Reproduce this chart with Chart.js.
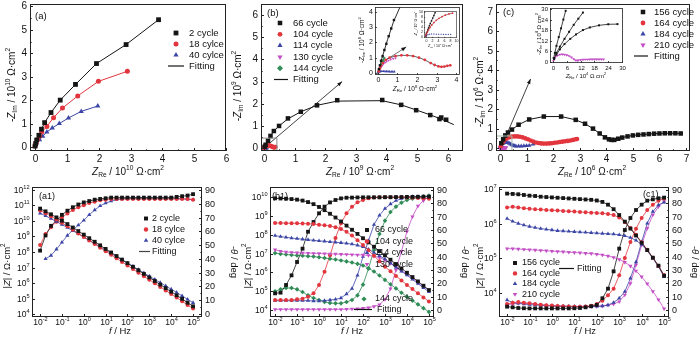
<!DOCTYPE html>
<html>
<head>
<meta charset="utf-8">
<script src="https://cdn.jsdelivr.net/npm/chart.js@4.4.0/dist/chart.umd.min.js"></script>
<style>
html, body { margin: 0; padding: 0; background: #fff; }
#wrap { position: relative; width: 700px; height: 340px; overflow: hidden; }
#wrap canvas { position: absolute; left: 0; top: 0; }
</style>
</head>
<body>
<div id="wrap"></div>
<script>
const W = 700, H = 340;
const FONT = '"Liberation Sans", Arial, sans-serif';
const BLACK = '#151515', RED = '#e2353d', BLUE = '#3b45a6', PURPLE = '#c44ec6', GREEN = '#2f8c56';

// ---- Nyquist (a), units 10^10 ohm cm2
const aNames = ['2 cycle', '18 cylce', '40 cylce'];
const a2x = [0.0, 0.02, 0.05, 0.12, 0.2, 0.3, 0.5, 0.79, 1.27, 1.93, 2.86, 3.88];
const a2y = [0.04, 0.15, 0.3, 0.5, 0.76, 1.04, 1.47, 2.0, 2.67, 3.56, 4.37, 5.43];
const a18x = [0.0, 0.03, 0.07, 0.14, 0.21, 0.37, 0.58, 0.86, 1.34, 1.99, 2.9];
const a18y = [0.04, 0.17, 0.31, 0.46, 0.64, 0.88, 1.25, 1.66, 2.18, 2.8, 3.23];
const a40x = [0.01, 0.05, 0.14, 0.24, 0.37, 0.54, 0.76, 1.05, 1.45, 1.97];
const a40y = [0.07, 0.18, 0.31, 0.46, 0.64, 0.81, 1.0, 1.24, 1.52, 1.75];

// ---- Nyquist (b): 66 cycle in 10^9, the others in 10^8 (130/144 in 10^7)
const bNames = ['66 cycle', '104 cycle', '114 cycle', '130 cycle', '144 cycle'];
const b66x = [0.02, 0.05, 0.13, 0.21, 0.32, 0.49, 0.78, 1.2, 1.73, 2.39, 3.86, 4.48, 4.97, 5.43, 5.73, 5.79, 5.95];
const b66y = [0.06, 0.15, 0.33, 0.55, 0.77, 1.0, 1.34, 1.64, 1.93, 2.16, 2.17, 1.95, 1.71, 1.49, 1.31, 1.38, 1.28];
const b66fitX = [0, 0.05, 0.13, 0.21, 0.32, 0.49, 0.78, 1.2, 1.73, 2.39, 3.1, 3.86, 4.48, 4.97, 5.43, 5.8, 6.2];
const b66fitY = [0, 0.15, 0.33, 0.55, 0.77, 1.0, 1.32, 1.64, 1.93, 2.12, 2.13, 2.14, 1.95, 1.72, 1.5, 1.3, 1.06];
const b66inX = [0.05, 0.1, 0.16, 0.24, 0.33, 0.43, 0.55, 0.68, 0.82];
const b66inY = [0.25, 0.5, 0.8, 1.1, 1.5, 1.9, 2.4, 2.9, 3.45];
const b66inFitX = [0, 0.2, 0.5, 0.8, 1.2];
const b66inFitY = [0, 0.95, 2.2, 3.35, 4.5];
const b104x = [0.05, 0.1, 0.15, 0.25, 0.4, 0.6, 0.9, 1.2, 1.5, 1.8, 2.1, 2.4, 2.7, 2.9, 3.1, 3.25, 3.4, 3.55, 3.7];
const b104y = [0.1, 0.3, 0.45, 0.65, 0.85, 1.0, 1.1, 1.15, 1.15, 1.1, 1.0, 0.85, 0.65, 0.52, 0.43, 0.4, 0.42, 0.47, 0.5];
const b114x = [0.03, 0.08, 0.13, 0.2, 0.28, 0.36, 0.44, 0.52, 0.6, 0.68, 0.76, 0.84];
const b114y = [0.04, 0.08, 0.1, 0.11, 0.11, 0.1, 0.1, 0.1, 0.09, 0.09, 0.09, 0.09];
const b130x = [0.1, 0.3, 0.6, 1.0, 1.5, 2.1, 2.8, 3.6, 4.5, 5.5, 6.6, 7.8, 9.0];
const b130y = [0.4, 1.1, 1.9, 2.8, 3.8, 4.8, 5.8, 6.7, 7.5, 8.2, 8.8, 9.3, 9.6];
const b144x = [0.05, 0.15, 0.3, 0.5, 0.75, 1.0, 1.3, 1.6, 2.0, 2.4, 2.8, 3.2];
const b144y = [0.2, 0.6, 1.2, 1.9, 2.8, 3.6, 4.5, 5.4, 6.5, 7.6, 8.7, 9.8];
const bArrowX = [0.08, 2.55], bArrowY = [0.1, 3.0];
const bInArrowX = [0.35, 1.45], bInArrowY = [0.8, 1.7];
const bBoxX = [-0.1, 0.42, 0.42, -0.1, -0.1], bBoxY = [-0.15, -0.15, 0.45, 0.45, -0.15];

// ---- Nyquist (c): units 10^6, inset in 10^4
const cNames = ['156 cycle', '164 cycle', '184 cycle', '210 cycle'];
const c156x = [0.05, 0.12, 0.2, 0.3, 0.45, 0.7, 1.1, 1.65, 2.3, 2.85, 3.2, 3.5, 3.75, 3.95, 4.1, 4.2, 4.3, 4.45, 4.6, 4.8, 5.0, 5.2, 5.4, 5.6, 5.8, 6.0, 6.2, 6.4, 6.6, 6.8];
const c156y = [0.25, 0.45, 0.65, 0.8, 0.95, 1.2, 1.47, 1.62, 1.62, 1.45, 1.25, 1.0, 0.75, 0.55, 0.45, 0.42, 0.42, 0.48, 0.54, 0.6, 0.65, 0.68, 0.7, 0.72, 0.74, 0.75, 0.76, 0.76, 0.76, 0.75];
const c164x = [0.03, 0.08, 0.15, 0.25, 0.35, 0.45, 0.55, 0.65, 0.75, 0.85, 0.95, 1.05, 1.15, 1.25, 1.35, 1.45, 1.55, 1.65, 1.75, 1.85, 1.95, 2.05, 2.15, 2.25, 2.35, 2.45, 2.55, 2.65, 2.75, 2.85, 2.9];
const c164y = [0.1, 0.25, 0.38, 0.48, 0.55, 0.59, 0.6, 0.6, 0.58, 0.55, 0.5, 0.45, 0.39, 0.34, 0.29, 0.26, 0.24, 0.23, 0.23, 0.24, 0.25, 0.27, 0.29, 0.31, 0.33, 0.35, 0.37, 0.39, 0.42, 0.45, 0.47];
const c184x = [0.02, 0.05, 0.1, 0.15, 0.2, 0.25, 0.3, 0.35, 0.4, 0.45, 0.5, 0.55, 0.6, 0.7, 0.8, 0.9, 1.0, 1.1, 1.25];
const c184y = [0.07, 0.15, 0.22, 0.26, 0.28, 0.28, 0.27, 0.24, 0.2, 0.16, 0.13, 0.11, 0.1, 0.1, 0.1, 0.11, 0.12, 0.13, 0.2];
const c210x = [0.2, 0.5, 1, 2, 3, 4, 5, 6, 7, 8, 9, 9.7, 10.5, 11, 12, 13, 14, 15, 16, 17, 18, 19, 20, 21, 22];
const c210y = [0.5, 1.5, 2.5, 3.5, 4, 4.1, 4, 3.7, 3.2, 2.4, 1.5, 0.8, 0.6, 0.8, 1.0, 1.1, 1.2, 1.2, 1.25, 1.3, 1.3, 1.3, 1.3, 1.3, 1.25];
const c156inX = [0.3, 0.8, 1.5, 2.5, 3.5, 4.5, 5.5];
const c156inY = [2, 5, 9, 14, 19, 24, 29];
const c164inX = [0.5, 1.5, 3, 5, 7, 9, 11, 13];
const c164inY = [2, 5, 8.5, 13, 17, 21, 24.5, 28];
const c184inX = [0.5, 1.5, 3, 5, 7.5, 10, 13, 16, 20, 24, 28];
const c184inY = [1.5, 4, 7, 10, 13, 15.5, 18, 19.5, 20.7, 21.3, 21.4];
const cArrowX = [0.05, 1.15], cArrowY = [0.05, 3.55];
const cBoxX = [-0.15, 0.45, 0.45, -0.15, -0.15], cBoxY = [-0.15, -0.15, 0.62, 0.62, -0.15];

// ---- Bode plots: sweep frequencies (Hz), |Z| (ohm cm2), phase -theta (deg)
const freq = [1e-2, 1.78e-2, 3.16e-2, 5.62e-2, 1e-1, 1.78e-1, 3.16e-1, 5.62e-1, 1, 1.78, 3.16, 5.62, 10, 17.8, 31.6, 56.2, 100, 178, 316, 562, 1e3, 1.78e3, 3.16e3, 5.62e3, 1e4, 1.78e4, 3.16e4, 5.62e4, 1e5];

const a1Z2 = [6.31e10, 4.17e10, 2.69e10, 1.70e10, 1.05e10, 6.31e9, 3.80e9, 2.24e9, 1.32e9, 7.76e8, 4.57e8, 2.69e8, 1.58e8, 9.33e7, 5.50e7, 3.24e7, 1.91e7, 1.12e7, 6.61e6, 3.89e6, 2.29e6, 1.35e6, 7.94e5, 4.68e5, 2.75e5, 1.62e5, 9.55e4, 5.37e4, 3.16e4];
const a1Z18 = [4.79e10, 3.16e10, 2.04e10, 1.26e10, 7.59e9, 4.57e9, 2.69e9, 1.58e9, 9.33e8, 5.50e8, 3.24e8, 1.91e8, 1.12e8, 6.61e7, 3.89e7, 2.29e7, 1.35e7, 7.94e6, 4.68e6, 2.75e6, 1.62e6, 9.55e5, 5.62e5, 3.31e5, 1.95e5, 1.15e5, 6.76e4, 3.80e4, 2.24e4];
const a1Z40 = [3.16e10, 2.14e10, 1.41e10, 9.12e9, 5.89e9, 3.72e9, 2.34e9, 1.48e9, 9.12e8, 5.62e8, 3.47e8, 2.14e8, 1.32e8, 8.13e7, 5.01e7, 3.09e7, 1.91e7, 1.17e7, 7.24e6, 4.47e6, 2.75e6, 1.70e6, 1.05e6, 6.46e5, 3.98e5, 2.45e5, 1.48e5, 8.91e4, 5.37e4];
const a1P2 = [46, 57, 64, 68, 72, 75, 77.5, 79.5, 81, 82, 83, 83.5, 84, 84.5, 84.5, 84.5, 84.5, 84.5, 84.5, 84.5, 84.5, 84.5, 84.5, 84.5, 84.5, 85, 85.5, 86, 87];
const a1P18 = [50, 58, 63, 67, 70, 73, 75.5, 77.5, 79, 80.5, 81.5, 82.5, 83, 83.5, 83.5, 83.5, 83.5, 83.5, 83.5, 83.5, 83.5, 83.5, 83.5, 83.5, 83.5, 83.5, 83.5, 83.5, 83];
const a1P40 = [null, 40, 42.5, 47, 52, 57, 61, 64.5, 68, 72, 75.5, 78.5, 80.5, 82, 83, 83.5, 84, 84, 84, 84, 84, 84, 84, 84, 84, 83.8, 83.6, 83.4, 83];

const b1Z66 = [8.51e9, 8.32e9, 8.13e9, 7.76e9, 7.24e9, 6.46e9, 5.37e9, 4.17e9, 2.95e9, 2.0e9, 1.29e9, 8.13e8, 5.01e8, 3.02e8, 1.82e8, 1.10e8, 6.46e7, 3.89e7, 2.29e7, 1.35e7, 7.94e6, 4.68e6, 2.75e6, 1.62e6, 9.55e5, 5.62e5, 3.31e5, 1.95e5, 1.15e5];
const b1Z104 = [4.17e8, 4.17e8, 4.07e8, 4.07e8, 3.98e8, 3.89e8, 3.80e8, 3.63e8, 3.31e8, 3.16e8, 2.88e8, 2.51e8, 2.0e8, 1.41e8, 8.91e7, 5.01e7, 2.82e7, 1.48e7, 7.59e6, 3.89e6, 2.0e6, 1.15e6, 6.46e5, 3.72e5, 2.14e5, 1.29e5, 7.76e4, 4.68e4, 2.82e4];
const b1Z114 = [8.91e7, 7.94e7, 7.24e7, 6.61e7, 6.17e7, 5.75e7, 5.37e7, 5.01e7, 4.68e7, 4.47e7, 4.17e7, 3.98e7, 3.72e7, 3.47e7, 3.16e7, 2.75e7, 2.24e7, 1.66e7, 1.12e7, 7.59e6, 5.01e6, 3.09e6, 1.86e6, 1.15e6, 7.08e5, 4.27e5, 2.51e5, 1.51e5, 9.33e4];
const b1Z130 = [1.58e7, 1.32e7, 1.20e7, 1.15e7, 1.10e7, 1.07e7, 1.05e7, 1.02e7, 1.0e7, 9.77e6, 9.55e6, 9.33e6, 9.12e6, 8.91e6, 8.71e6, 8.51e6, 8.32e6, 7.94e6, 7.24e6, 6.03e6, 4.47e6, 3.02e6, 2.0e6, 1.26e6, 7.94e5, 5.01e5, 3.02e5, 1.86e5, 1.15e5];
const b1Z144 = [1.05e7, 9.55e6, 8.91e6, 8.32e6, 7.94e6, 7.59e6, 7.24e6, 6.92e6, 6.31e6, 5.75e6, 5.25e6, 4.79e6, 4.27e6, 3.80e6, 3.31e6, 2.82e6, 2.29e6, 1.66e6, 1.10e6, 6.76e5, 3.98e5, 2.34e5, 1.41e5, 8.32e4, 5.01e4, 3.16e4, 2.0e4, 1.26e4, 7.94e3];
const b1P66 = [12.5, 13, 18.75, 26, 36, 46, 58.7, 66, 72.5, 77.5, 80.7, 82.5, 83.7, 84.2, 84.3, 84.4, 84.5, 84.5, 84.5, 84.5, 84.6, 84.6, 84.7, 84.7, 84.8, 84.8, 84.9, 85, 85];
const b1P104 = [7.5, 7.5, 7.5, 7.5, 8, 8.5, 10, 12.5, 18.75, 28.75, 41, 54, 65, 72.5, 77.5, 80.75, 82.5, 83.75, 84.3, 84.5, 84.5, 84.5, 84.5, 84.5, 84.3, 84.2, 84, 83.8, 83.5];
const b1P114 = [7, 7, 7, 7, 7, 7, 7, 6.8, 6.8, 7, 7.5, 8, 9, 12, 16, 26, 40, 52, 64, 71, 76, 79.5, 82, 83.5, 84.5, 85, 85, 85, 85];
const b1P130 = [0.5, 0.5, 0.5, 0.5, 0.5, 0.5, 0.5, 0.5, 0.5, 0.5, 0.5, 0.5, 0.5, 0.6, 0.8, 1, 1.3, 1.8, 2.6, 4, 8, 16, 30, 44, 59, 70, 78, 82, 85];
const b1P144 = [14, 15.5, 16.5, 16.5, 15.5, 13.5, 11, 9, 7.5, 6, 5.2, 5, 5, 6, 7.5, 11, 19, 31, 45, 57, 67, 73.5, 77.5, 80.5, 82.5, 83.5, 84.3, 85, 85.8];

const c1Z156 = [7.41e6, 7.24e6, 7.08e6, 6.76e6, 6.46e6, 6.31e6, 6.03e6, 5.89e6, 5.75e6, 5.62e6, 5.50e6, 5.37e6, 5.25e6, 5.13e6, 5.01e6, 4.90e6, 4.68e6, 4.27e6, 3.55e6, 2.63e6, 1.78e6, 1.15e6, 7.24e5, 4.57e5, 2.82e5, 1.74e5, 1.05e5, 6.17e4, 3.16e4];
const c1Z164 = [2.95e6, 3.09e6, 2.95e6, 2.82e6, 2.69e6, 2.63e6, 2.57e6, 2.51e6, 2.45e6, 2.40e6, 2.34e6, 2.29e6, 2.24e6, 2.19e6, 2.14e6, 2.09e6, 2.04e6, 2.0e6, 1.91e6, 1.78e6, 1.51e6, 1.12e6, 7.59e5, 4.79e5, 2.95e5, 1.78e5, 1.05e5, 6.03e4, 3.31e4];
const c1Z184 = [1.41e6, 1.17e6, 1.02e6, 9.12e5, 8.32e5, 7.76e5, 7.24e5, 6.92e5, 6.61e5, 6.31e5, 6.17e5, 6.03e5, 5.89e5, 5.75e5, 5.62e5, 5.50e5, 5.37e5, 5.25e5, 5.13e5, 5.01e5, 4.79e5, 4.47e5, 3.98e5, 3.31e5, 2.51e5, 1.66e5, 1.0e5, 5.75e4, 2.95e4];
const c1Z210 = [1.91e5, 1.91e5, 1.86e5, 1.82e5, 1.78e5, 1.74e5, 1.70e5, 1.66e5, 1.62e5, 1.58e5, 1.55e5, 1.51e5, 1.48e5, 1.45e5, 1.41e5, 1.38e5, 1.32e5, 1.26e5, 1.17e5, 1.07e5, 9.33e4, 7.76e4, 6.03e4, 4.37e4, 2.95e4, 1.86e4, 1.12e4, 6.46e3, 3.55e3];
const c1P156 = [2.5, 2, 1.5, 1.3, 1.2, 1.2, 1.2, 1.2, 1.2, 1.2, 1.2, 1.2, 1.3, 1.5, 2, 2.8, 3.8, 8.8, 16, 29, 46, 60, 69, 75, 79, 82, 83, 83.8, 84.3];
const c1P164 = [4.5, 5.5, 6, 5.5, 5, 4.5, 4, 3.6, 3.3, 3, 2.8, 2.6, 2.5, 2.5, 2.7, 3.2, 4.5, 7, 11, 16, 26, 39, 51, 61, 69, 75, 79, 82, 83.5];
const c1P184 = [7.5, 5.5, 5, 4.5, 4, 3.7, 3.5, 3.3, 3.1, 3, 2.9, 2.8, 2.7, 2.6, 2.6, 2.6, 2.7, 3, 3.8, 5.5, 8.8, 13.8, 23.8, 36, 51, 65, 73.8, 78.8, 80.8];
const c1P210 = [4, 4.5, 5, 5, 4.8, 4.3, 3.8, 3.4, 3, 2.8, 2.6, 2.5, 2.4, 2.4, 2.4, 2.5, 2.7, 3, 3.6, 4.5, 6.3, 11.3, 20, 33.8, 48.8, 61.3, 71.3, 77.5, 81.3];

// ---- axis ticks
const nyqTicksA = [0, 1, 2, 3, 4, 5, 6];
const nyqTicksB = [0, 1, 2, 3, 4, 5, 6];
const nyqTicksC = [0, 1, 2, 3, 4, 5, 6, 7];
const insetTicksB = [0, 1, 2, 3, 4];
const nestTicksB = [0, 2, 4, 6, 8, 10];
const insetTicksC = [0, 6, 12, 18, 24, 30];
const freqTicks = [1e-2, 1e-1, 1, 1e1, 1e2, 1e3, 1e4, 1e5];
const zTicksA1 = [1e4, 1e5, 1e6, 1e7, 1e8, 1e9, 1e10, 1e11, 1e12];
const zTicksB1 = [1e4, 1e5, 1e6, 1e7, 1e8, 1e9, 1e10];
const zTicksC1 = [1e4, 1e5, 1e6, 1e7];
const phaseTicks = [0, 10, 20, 30, 40, 50, 60, 70, 80, 90];

// ---------- text helpers
function parseRich(s) {
  const out = [];
  let mode = 'n', italic = false, last = 0, m;
  const re = /<(\/?)(sup|sub|i)>/g;
  while ((m = re.exec(s))) {
    if (m.index > last) out.push({ t: s.slice(last, m.index), mode, italic });
    if (m[2] === 'i') italic = !m[1]; else mode = m[1] ? 'n' : m[2];
    last = re.lastIndex;
  }
  if (last < s.length) out.push({ t: s.slice(last), mode, italic });
  return out;
}

function drawRich(ctx, s, x, y, size, align, rot) {
  const segs = parseRich(s);
  const font = g => (g.italic ? 'italic ' : '') + (g.mode === 'n' ? size : size * 0.66).toFixed(2) + 'px ' + FONT;
  let w = 0;
  segs.forEach(g => { ctx.font = font(g); g.w = ctx.measureText(g.t).width; w += g.w; });
  ctx.save();
  ctx.translate(x, y);
  if (rot) ctx.rotate(rot * Math.PI / 180);
  let cx = align === 'left' ? 0 : align === 'right' ? -w : -w / 2;
  ctx.textAlign = 'left';
  ctx.textBaseline = 'middle';
  ctx.fillStyle = '#111';
  segs.forEach(g => {
    ctx.font = font(g);
    const dy = g.mode === 'sup' ? -size * 0.36 : g.mode === 'sub' ? size * 0.3 : 0;
    ctx.fillText(g.t, cx, dy);
    cx += g.w;
  });
  ctx.restore();
}

function marker(ctx, style, x, y, r, color) {
  ctx.fillStyle = color;
  ctx.beginPath();
  if (style === 'rect') {
    const s = r * Math.SQRT1_2;
    ctx.rect(x - s, y - s, 2 * s, 2 * s);
  } else if (style === 'circle') {
    ctx.arc(x, y, r, 0, Math.PI * 2);
  } else if (style === 'rectRot') {
    ctx.moveTo(x, y - r); ctx.lineTo(x + r, y); ctx.lineTo(x, y + r); ctx.lineTo(x - r, y);
  } else {
    const d = style === 'down' ? -1 : 1;
    ctx.moveTo(x, y - d * r);
    ctx.lineTo(x + r * 0.866, y + d * r * 0.5);
    ctx.lineTo(x - r * 0.866, y + d * r * 0.5);
  }
  ctx.closePath();
  ctx.fill();
}

const logLabel = v => '10<sup>' + Math.round(Math.log10(v)) + '</sup>';
const midpoints = t => t.slice(1).map((v, i) => (v + t[i]) / 2);

// frame, inward ticks, tick labels, titles and legend drawn on top of each chart
const decoPlugin = {
  id: 'deco',
  beforeDraw(chart, args, o) {
    if (!o.fill) return;
    const a = chart.chartArea, ctx = chart.ctx;
    ctx.save();
    ctx.fillStyle = '#fff';
    ctx.fillRect(a.left, a.top, a.width, a.height);
    ctx.restore();
  },
  afterDatasetsDraw(chart) {
    const ctx = chart.ctx;
    chart.data.datasets.forEach((ds, i) => {
      if (!ds.arrow) return;
      const el = chart.getDatasetMeta(i).data, n = el.length;
      const p = el[n - 2], q = el[n - 1];
      const ang = Math.atan2(q.y - p.y, q.x - p.x), L = 5, w = 1.8;
      ctx.save();
      ctx.fillStyle = ds.borderColor;
      ctx.beginPath();
      ctx.moveTo(q.x, q.y);
      ctx.lineTo(q.x - L * Math.cos(ang) + w * Math.sin(ang), q.y - L * Math.sin(ang) - w * Math.cos(ang));
      ctx.lineTo(q.x - L * Math.cos(ang) - w * Math.sin(ang), q.y - L * Math.sin(ang) + w * Math.cos(ang));
      ctx.closePath();
      ctx.fill();
      ctx.restore();
    });
  },
  afterDraw(chart, args, o) {
    const ctx = chart.ctx, a = chart.chartArea;
    const size = o.size || 10;
    ctx.save();
    ctx.strokeStyle = '#222';
    ctx.lineWidth = o.lw || 1;
    ctx.strokeRect(Math.round(a.left) + 0.5, Math.round(a.top) + 0.5, Math.round(a.width) - 1, Math.round(a.height) - 1);
    (o.axes || []).forEach(ax => {
      const sc = chart.scales[ax.id];
      const len = ax.len || 3, pad = ax.pad == null ? 3 : ax.pad, fs = ax.size || size;
      const tick = (v, l) => {
        const p = Math.round(sc.getPixelForValue(v)) + 0.5;
        ctx.beginPath();
        if (ax.side === 'bottom') { ctx.moveTo(p, a.bottom); ctx.lineTo(p, a.bottom - l); }
        else if (ax.side === 'left') { ctx.moveTo(a.left, p); ctx.lineTo(a.left + l, p); }
        else { ctx.moveTo(a.right, p); ctx.lineTo(a.right - l, p); }
        ctx.stroke();
        return p;
      };
      ax.ticks.forEach((v, i) => {
        const p = tick(v, len);
        const lab = ax.labels ? ax.labels[i] : String(v);
        if (ax.side === 'bottom') drawRich(ctx, lab, p, a.bottom + pad + fs / 2, fs, 'center');
        else if (ax.side === 'left') drawRich(ctx, lab, a.left - pad, p, fs, 'right');
        else drawRich(ctx, lab, a.right + pad, p, fs, 'left');
      });
      (ax.minor || []).forEach(v => tick(v, len * 0.55));
    });
    (o.texts || []).forEach(t => drawRich(ctx, t.t, t.x, t.y, t.size || size, t.align || 'center', t.rot || 0));
    const L = o.legend;
    if (L) {
      L.items.forEach((it, i) => {
        const y = it.y != null ? it.y : L.y0 + i * L.dy;
        if (it.line) {
          ctx.strokeStyle = it.color;
          ctx.lineWidth = 1.2;
          ctx.beginPath();
          ctx.moveTo(it.line[0], y); ctx.lineTo(it.line[1], y);
          ctx.stroke();
        } else {
          marker(ctx, it.style, it.mx != null ? it.mx : L.mx, y, it.r || L.r, it.color);
        }
        drawRich(ctx, it.label, it.tx != null ? it.tx : L.tx, y, L.size || size, 'left');
      });
    }
    ctx.restore();
  }
};

// ---------- chart builders
function pts(xs, ys, k) {
  k = k || 1;
  const out = [];
  xs.forEach((x, i) => { if (ys[i] != null) out.push({ x: x * k, y: ys[i] * k }); });
  return out;
}
function bode(ys) {
  const out = [];
  freq.forEach((f, i) => { if (ys[i] != null) out.push({ x: f, y: ys[i] }); });
  return out;
}
function marks(data, color, style, r, yAxisID) {
  return {
    data, showLine: false, yAxisID: yAxisID || 'y',
    pointStyle: style === 'down' ? 'triangle' : style,
    pointRotation: style === 'down' ? 180 : 0,
    pointRadius: r, pointBackgroundColor: color, pointBorderColor: color, pointBorderWidth: 0
  };
}
function curve(data, color, w, yAxisID, extra) {
  return Object.assign({
    data, showLine: true, yAxisID: yAxisID || 'y', pointRadius: 0,
    borderColor: color, borderWidth: w || 1, tension: 0
  }, extra || {});
}
function axis(type, position, min, max, extra) {
  return Object.assign({
    type, position, min, max,
    ticks: { display: false }, grid: { display: false }, border: { display: false },
    afterFit: s => { if (s.isHorizontal()) s.height = 0; else s.width = 0; }
  }, extra || {});
}

const wrap = document.getElementById('wrap');
function panel(frame, scales, datasets, deco) {
  const cv = document.createElement('canvas');
  cv.width = W; cv.height = H;
  wrap.appendChild(cv);
  return new Chart(cv.getContext('2d'), {
    type: 'scatter',
    data: { datasets },
    options: {
      responsive: false, animation: false, events: [], devicePixelRatio: 1,
      layout: { padding: { left: frame[0], top: frame[1], right: W - frame[2], bottom: H - frame[3] } },
      plugins: { legend: { display: false }, tooltip: { enabled: false }, deco },
      scales
    },
    plugins: [decoPlugin]
  });
}

const nyqTitle = (p, e) => '<i>Z</i><sub>' + p + '</sub> / 10<sup>' + e + '</sup> Ω·cm<sup>2</sup>';

// ===== (a) Nyquist
panel([30, 3, 226, 151],
  { x: axis('linear', 'bottom', -0.16, 6), y: axis('linear', 'left', -0.17, 6.1) },
  [
    marks(pts(a2x, a2y), BLACK, 'rect', 3.4),
    marks(pts(a18x, a18y), RED, 'circle', 2.5),
    marks(pts(a40x, a40y), BLUE, 'triangle', 3),
    curve(pts(a2x, a2y), BLACK, 1),
    curve(pts(a18x, a18y), RED, 1),
    curve(pts(a40x, a40y), BLUE, 1)
  ],
  {
    size: 10,
    axes: [
      { id: 'x', side: 'bottom', ticks: nyqTicksA, minor: midpoints(nyqTicksA) },
      { id: 'y', side: 'left', ticks: nyqTicksA, minor: midpoints(nyqTicksA) }
    ],
    texts: [
      { t: nyqTitle('Re', 10), x: 128, y: 172 },
      { t: '-' + nyqTitle('Im', 10), x: 12, y: 85, rot: -90 },
      { t: '(a)', x: 35, y: 16, align: 'left', size: 9.5 }
    ],
    legend: {
      mx: 176, tx: 189, y0: 33, dy: 11, r: 3, size: 9.5,
      items: [
        { label: aNames[0], style: 'rect', color: BLACK, r: 3.4 },
        { label: aNames[1], style: 'circle', color: RED, r: 2.5 },
        { label: aNames[2], style: 'triangle', color: BLUE },
        { label: 'Fitting', line: [168, 184], color: BLACK }
      ]
    }
  });

// ===== (b) Nyquist
panel([261, 3, 463, 151],
  { x: axis('linear', 'bottom', -0.1, 6.5), y: axis('linear', 'left', -0.13, 6.5) },
  [
    curve(pts(bBoxX, bBoxY), '#8a8a8a', 1),
    marks(pts(b66x, b66y), BLACK, 'rect', 3.2),
    marks(pts(b104x, b104y, 0.1), RED, 'circle', 2.3),
    marks(pts(b114x, b114y, 0.1), BLUE, 'triangle', 2.6),
    marks(pts(b130x, b130y, 0.01), PURPLE, 'down', 2.6),
    marks(pts(b144x, b144y, 0.01), GREEN, 'rectRot', 2.6),
    curve(pts(b66fitX, b66fitY), BLACK, 1),
    curve(pts(b104x, b104y, 0.1), BLACK, 0.8),
    curve(pts(bArrowX, bArrowY), BLACK, 0.8, 'y', { arrow: true })
  ],
  {
    size: 10,
    axes: [
      { id: 'x', side: 'bottom', ticks: nyqTicksB, minor: midpoints(nyqTicksB) },
      { id: 'y', side: 'left', ticks: nyqTicksB, minor: midpoints(nyqTicksB) }
    ],
    texts: [
      { t: nyqTitle('Re', 9), x: 360, y: 172 },
      { t: '-' + nyqTitle('Im', 9), x: 238, y: 86, rot: -90 },
      { t: '(b)', x: 267, y: 13, align: 'left', size: 9.5 }
    ],
    legend: {
      mx: 280, tx: 293, y0: 23, dy: 11.3, r: 3, size: 9.5,
      items: [
        { label: bNames[0], style: 'rect', color: BLACK, r: 3.2 },
        { label: bNames[1], style: 'circle', color: RED, r: 2.4 },
        { label: bNames[2], style: 'triangle', color: BLUE },
        { label: bNames[3], style: 'down', color: PURPLE },
        { label: bNames[4], style: 'rectRot', color: GREEN },
        { label: 'Fitting', line: [274, 288], color: BLACK }
      ]
    }
  });

// (b) inset, units 10^8
panel([375, 7, 460, 75],
  { x: axis('linear', 'bottom', -0.15, 4.2), y: axis('linear', 'left', -0.13, 4.3) },
  [
    marks(pts(b66inX, b66inY), BLACK, 'rect', 1.7),
    marks(pts(b104x, b104y), RED, 'circle', 1.4),
    marks(pts(b114x, b114y), BLUE, 'triangle', 1.6),
    marks(pts(b130x, b130y, 0.1), PURPLE, 'down', 1.5),
    marks(pts(b144x, b144y, 0.1), GREEN, 'rectRot', 1.5),
    curve(pts(b66inFitX, b66inFitY), BLACK, 0.9),
    curve(pts(b104x, b104y), BLACK, 0.7),
    curve(pts(bInArrowX, bInArrowY), BLACK, 0.6, 'y', { arrow: true })
  ],
  {
    fill: true, size: 7, lw: 0.8,
    axes: [
      { id: 'x', side: 'bottom', ticks: insetTicksB, len: 2, pad: 2 },
      { id: 'y', side: 'left', ticks: insetTicksB, len: 2, pad: 2 }
    ],
    texts: [
      { t: nyqTitle('Re', 8), x: 415, y: 89, size: 6.5 },
      { t: '-' + nyqTitle('Im', 8), x: 362, y: 40, size: 6.5, rot: -90 }
    ]
  });

// nested view of the (b) inset, units 10^7
panel([424, 11, 457, 38],
  { x: axis('linear', 'bottom', -0.5, 10.5), y: axis('linear', 'left', -0.5, 10.5) },
  [
    marks(pts(b114x, b114y, 10), BLUE, 'triangle', 1),
    marks(pts(b130x, b130y), RED, 'circle', 0.9),
    marks(pts(b144x, b144y), BLACK, 'rect', 1),
    curve(pts(b130x, b130y), '#7a2020', 0.6),
    curve(pts(b144x, b144y), BLACK, 0.6)
  ],
  {
    fill: true, size: 3.5, lw: 0.6,
    axes: [
      { id: 'x', side: 'bottom', ticks: nestTicksB, len: 1.2, pad: 1 },
      { id: 'y', side: 'left', ticks: nestTicksB, len: 1.2, pad: 1 }
    ],
    texts: [
      { t: nyqTitle('Re', 7), x: 440, y: 46, size: 3.5 },
      { t: '-' + nyqTitle('Im', 7), x: 416, y: 24, size: 3.5, rot: -90 }
    ]
  });

// ===== (c) Nyquist
panel([496, 3, 690, 151],
  { x: axis('linear', 'bottom', -0.15, 7.15), y: axis('linear', 'left', -0.15, 7.4) },
  [
    curve(pts(cBoxX, cBoxY), '#9fb8a4', 1),
    marks(pts(c156x, c156y), BLACK, 'rect', 3.2),
    marks(pts(c164x, c164y), RED, 'circle', 2.3),
    marks(pts(c184x, c184y), BLUE, 'triangle', 2.6),
    marks(pts(c210x, c210y, 0.01), PURPLE, 'down', 2.6),
    curve(pts(c156x, c156y), BLACK, 1),
    curve(pts(c164x, c164y), BLACK, 0.7),
    curve(pts(c184x, c184y), BLACK, 0.7),
    curve(pts(cArrowX, cArrowY), BLACK, 0.8, 'y', { arrow: true })
  ],
  {
    size: 10,
    axes: [
      { id: 'x', side: 'bottom', ticks: nyqTicksC, minor: midpoints(nyqTicksC) },
      { id: 'y', side: 'left', ticks: nyqTicksC, minor: midpoints(nyqTicksC) }
    ],
    texts: [
      { t: nyqTitle('Re', 6), x: 592, y: 172 },
      { t: '-' + nyqTitle('Im', 6), x: 480, y: 92, rot: -90 },
      { t: '(c)', x: 503, y: 12, align: 'left', size: 9.5 }
    ],
    legend: {
      mx: 643, tx: 654, y0: 12, dy: 11, r: 3, size: 9.5,
      items: [
        { label: cNames[0], style: 'rect', color: BLACK, r: 3.2 },
        { label: cNames[1], style: 'circle', color: RED, r: 2.4 },
        { label: cNames[2], style: 'triangle', color: BLUE },
        { label: cNames[3], style: 'down', color: PURPLE },
        { label: 'Fitting', line: [634, 648], color: BLACK }
      ]
    }
  });

// (c) inset, units 10^4
panel([550, 8, 623, 63],
  { x: axis('linear', 'bottom', -1.3, 30.4), y: axis('linear', 'left', -0.8, 30.6) },
  [
    marks(pts(c156inX, c156inY), BLACK, 'rect', 1.4),
    marks(pts(c164inX, c164inY), BLACK, 'rect', 1.4),
    marks(pts(c184inX, c184inY), BLACK, 'rect', 1.4),
    marks(pts(c210x, c210y), PURPLE, 'down', 1.6),
    curve(pts(c156inX, c156inY), BLACK, 0.8),
    curve(pts(c164inX, c164inY), BLACK, 0.8),
    curve(pts(c184inX, c184inY), BLACK, 0.8),
    curve(pts(c210x, c210y), PURPLE, 0.8)
  ],
  {
    fill: true, size: 6, lw: 0.8,
    axes: [
      { id: 'x', side: 'bottom', ticks: insetTicksC, len: 2, pad: 2 },
      { id: 'y', side: 'left', ticks: insetTicksC, len: 2, pad: 2 }
    ],
    texts: [
      { t: '<i>Z</i><sub>Re</sub> / 10<sup>4</sup> Ω cm<sup>2</sup>', x: 586, y: 76, size: 6 },
      { t: '-<i>Z</i><sub>Im</sub> / 10<sup>4</sup> Ω cm<sup>2</sup>', x: 539, y: 34, size: 6, rot: -90 }
    ]
  });

// ===== Bode panels
function bodeAxes(x0, x1, y0, y1, p0, p1) {
  return {
    x: axis('logarithmic', 'bottom', x0, x1),
    y: axis('logarithmic', 'left', y0, y1),
    y2: axis('linear', 'right', p0, p1, { axis: 'y' })
  };
}
function bodeDeco(zTicks, titleX, yTitleX, y2TitleX, tag, legend) {
  return {
    size: 9,
    axes: [
      { id: 'x', side: 'bottom', ticks: freqTicks, labels: freqTicks.map(logLabel), pad: 1, size: 8.5 },
      { id: 'y', side: 'left', ticks: zTicks, labels: zTicks.map(logLabel), pad: 2.5, size: 8.5 },
      { id: 'y2', side: 'right', ticks: phaseTicks, minor: midpoints(phaseTicks), pad: 3, size: 9 }
    ],
    texts: [
      { t: '<i>f</i> / Hz', x: titleX, y: 331.5, size: 9.5 },
      { t: '|<i>Z</i>| / Ω·cm<sup>2</sup>', x: yTitleX, y: 266, rot: -90, size: 9.5 },
      { t: '-<i>θ</i> / deg', x: y2TitleX, y: 262, rot: 90, size: 9.5 },
      tag
    ],
    legend
  };
}

// (a1)
panel([32, 187, 202, 317],
  bodeAxes(Math.pow(10, -2.37), Math.pow(10, 5.41), Math.pow(10, 3.81), Math.pow(10, 12.19), -2.2, 92.2),
  [
    marks(bode(a1Z2), BLACK, 'rect', 2.7),
    marks(bode(a1Z18), RED, 'circle', 2),
    marks(bode(a1Z40), BLUE, 'triangle', 2.4),
    marks(bode(a1P2), BLACK, 'rect', 2.7, 'y2'),
    marks(bode(a1P18), RED, 'circle', 2, 'y2'),
    marks(bode(a1P40), BLUE, 'triangle', 2.4, 'y2'),
    curve(bode(a1Z2), BLACK, 0.8),
    curve(bode(a1Z18), RED, 0.8),
    curve(bode(a1Z40), BLUE, 0.8),
    curve(bode(a1P2), BLACK, 0.8, 'y2'),
    curve(bode(a1P18), RED, 0.8, 'y2'),
    curve(bode(a1P40), BLUE, 0.8, 'y2')
  ],
  bodeDeco(zTicksA1, 120, 7, 234, { t: '(a1)', x: 39, y: 197, align: 'left', size: 9 }, {
    mx: 146, tx: 152, y0: 218.5, dy: 11, r: 2.6, size: 9,
    items: [
      { label: aNames[0], style: 'rect', color: BLACK, r: 2.8 },
      { label: aNames[1], style: 'circle', color: RED, r: 2.2 },
      { label: aNames[2], style: 'triangle', color: BLUE },
      { label: 'Fitting', line: [139, 150], color: '#444' }
    ]
  }));

// (b1)
panel([270, 187, 434, 317],
  bodeAxes(Math.pow(10, -2.23), Math.pow(10, 5.23), Math.pow(10, 3.63), Math.pow(10, 10.53), -5.25, 92.25),
  [
    marks(bode(b1Z66), BLACK, 'rect', 2.7),
    marks(bode(b1Z104), RED, 'circle', 2),
    marks(bode(b1Z114), BLUE, 'triangle', 2.4),
    marks(bode(b1Z130), PURPLE, 'down', 2.4),
    marks(bode(b1Z144), GREEN, 'rectRot', 2.3),
    marks(bode(b1P66), BLACK, 'rect', 2.7, 'y2'),
    marks(bode(b1P104), RED, 'circle', 2, 'y2'),
    marks(bode(b1P114), BLUE, 'triangle', 2.4, 'y2'),
    marks(bode(b1P130), PURPLE, 'down', 2.4, 'y2'),
    marks(bode(b1P144), GREEN, 'rectRot', 2.3, 'y2'),
    curve(bode(b1Z66), BLACK, 0.8),
    curve(bode(b1Z104), RED, 0.8),
    curve(bode(b1Z114), BLUE, 0.8),
    curve(bode(b1Z130), PURPLE, 0.8),
    curve(bode(b1Z144), GREEN, 0.8),
    curve(bode(b1P66), BLACK, 0.8, 'y2'),
    curve(bode(b1P104), RED, 0.8, 'y2'),
    curve(bode(b1P114), BLUE, 0.8, 'y2'),
    curve(bode(b1P130), PURPLE, 0.8, 'y2'),
    curve(bode(b1P144), GREEN, 0.8, 'y2')
  ],
  bodeDeco(zTicksB1, 352, 248, 465, { t: '(b1)', x: 272, y: 197, align: 'left', size: 9 }, {
    mx: 367, tx: 375, y0: 230, dy: 11.4, r: 2.6, size: 9,
    items: [
      { label: bNames[0], style: 'rect', color: BLACK, r: 2.8 },
      { label: bNames[1], style: 'circle', color: RED, r: 2.2 },
      { label: bNames[2], style: 'triangle', color: BLUE },
      { label: bNames[3], style: 'down', color: PURPLE },
      { label: bNames[4], style: 'rectRot', color: GREEN, y: 299, mx: 364 },
      { label: 'Fitting', line: [354, 372], color: BLACK, y: 309.5, tx: 377 }
    ]
  }));

// (c1)
panel([499, 187, 669, 317],
  bodeAxes(Math.pow(10, -2.36), Math.pow(10, 5.22), Math.pow(10, 3.31), Math.pow(10, 7.06), -5.25, 92.25),
  [
    marks(bode(c1Z156), BLACK, 'rect', 2.7),
    marks(bode(c1Z164), RED, 'circle', 2),
    marks(bode(c1Z184), BLUE, 'triangle', 2.4),
    marks(bode(c1Z210), PURPLE, 'down', 2.4),
    marks(bode(c1P156), BLACK, 'rect', 2.7, 'y2'),
    marks(bode(c1P164), RED, 'circle', 2, 'y2'),
    marks(bode(c1P184), BLUE, 'triangle', 2.4, 'y2'),
    marks(bode(c1P210), PURPLE, 'down', 2.4, 'y2'),
    curve(bode(c1Z156), BLACK, 0.8),
    curve(bode(c1Z164), RED, 0.8),
    curve(bode(c1Z184), BLUE, 0.8),
    curve(bode(c1Z210), PURPLE, 0.8),
    curve(bode(c1P156), BLACK, 0.8, 'y2'),
    curve(bode(c1P164), RED, 0.8, 'y2'),
    curve(bode(c1P184), BLUE, 0.8, 'y2'),
    curve(bode(c1P210), PURPLE, 0.8, 'y2')
  ],
  bodeDeco(zTicksC1, 585, 480, 695, { t: '(c1)', x: 643, y: 194.5, align: 'left', size: 9 }, {
    mx: 515, tx: 522, y0: 263, dy: 10.4, r: 2.6, size: 9,
    items: [
      { label: cNames[0], style: 'rect', color: BLACK, r: 2.8 },
      { label: cNames[1], style: 'circle', color: RED, r: 2.2 },
      { label: cNames[2], style: 'triangle', color: BLUE },
      { label: cNames[3], style: 'down', color: PURPLE },
      { label: 'Fitting', line: [559, 574], color: BLACK, y: 268.5, tx: 577 }
    ]
  }));
</script>
</body>
</html>
